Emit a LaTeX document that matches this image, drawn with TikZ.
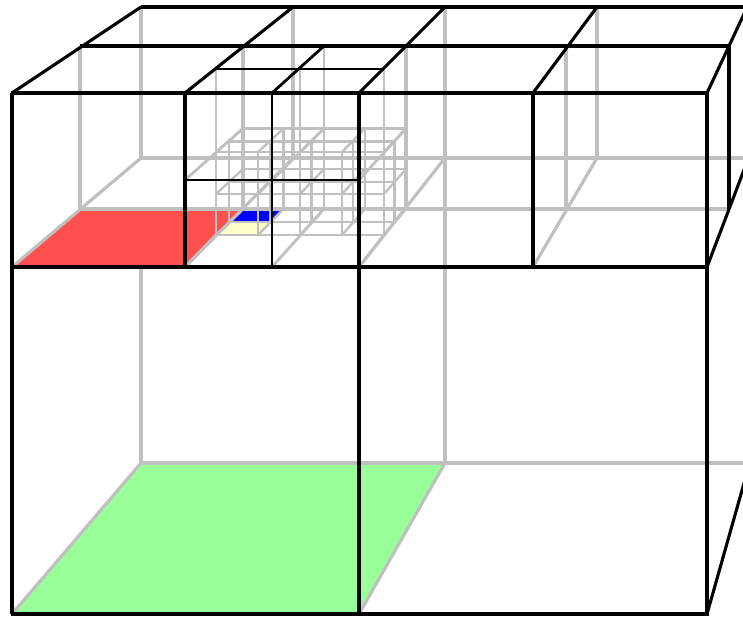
\documentclass[tikz,border=0pt]{standalone}
\definecolor{gr}{HTML}{C0C0C0}
\definecolor{redf}{HTML}{FF5050}
\definecolor{greenf}{HTML}{99FF99}
\definecolor{yelf}{HTML}{FFFFCC}
\tikzset{
 gbig/.style={draw=gr,line width=3.2pt},
 gmid/.style={draw=gr,line width=2.8pt},
 gsmall/.style={draw=gr,line width=2.4pt},
 kbig/.style={draw=black,line width=3.1pt},
 kmid/.style={draw=black,line width=2.8pt}
}
\begin{document}
\begin{tikzpicture}[x=1pt,y=-1pt,line cap=butt,line join=miter]
\useasboundingbox (0,0) rectangle (743,617);
\clip (0,0) rectangle (743,617);
% filled cells
\fill[greenf] (12,614) -- (359,614) -- (445,463) -- (141,463) -- cycle;
\fill[redf] (12,267) -- (185,267) -- (243,209) -- (80,209) -- cycle;
\fill[yelf] (216,235) -- (258,235) -- (270,222) -- (229,222) -- cycle;
\fill[blue] (229,222) -- (270,222) -- (283.5,209) -- (243,209) -- cycle;
% finest grid
\foreach \a/\b/\c in {216/229/243,258/270/283.5,300/311.5/324,342/353/365,384/394.5/406}{
  \draw[gsmall] (\a,152) -- (\a,235);
  \draw[gsmall] (\b,141.5) -- (\b,222);
  \draw[gsmall] (\c,128.5) -- (\c,209);
  \draw[gsmall] (\a,152) -- (\c,128.5);
  \draw[gsmall] (\a,194) -- (\c,169);
  \draw[gsmall] (\a,235) -- (\c,209);
}
\foreach \y/\l/\r in {152/216/384,194/216/384,235/216/384,141.5/229/394.5,182/229/394.5,222/229/394.5,128.5/243/406,169/243/406}{
  \draw[gsmall] (\l,\y) -- (\r,\y);
}
% middle level hidden edges
\draw[gmid] (216,69) -- (216,152) (300,69) -- (300,152) (384,69) -- (384,152);
\draw[gmid] (185,180) -- (243,128.5) (272,180) -- (324,128.5) (359,180) -- (406,128.5);
\draw[gmid] (185,267) -- (216,235) (272,267) -- (324,209) (359,267) -- (384,235);
% large level hidden edges
\draw[gbig] (80,46) -- (80,209) (243,46) -- (243,209) (406,46) -- (406,209) (566,46) -- (566,209);
\draw[gmid] (324,46) -- (324,209);
\draw[gbig] (141,7) -- (141,158) (141,267) -- (141,463) (293,7) -- (293,158) (445,7) -- (445,463) (597,7) -- (597,158);
\draw[gbig] (80,209) -- (729,209);
\draw[gbig] (141,158) -- (750,158);
\draw[gbig] (141,463) -- (750,463);
\draw[gbig] (12,267) -- (141,158) (185,267) -- (293,158) (359,267) -- (445,158) (533,267) -- (597,158);
\draw[gbig] (12,614) -- (141,463) (359,614) -- (445,463);
% visible edges
\draw[kmid] (272,93) -- (272,267) (185,180) -- (359,180) (216,69) -- (384,69);
\draw[kmid] (272,93) -- (324,46);
\draw[kbig] (12,93) -- (141,7) (185,93) -- (293,7) (359,93) -- (445,7) (533,93) -- (597,7) (707,93) -- (729,46) -- (750,1);
\draw[kbig] (141,7) -- (750,7) (80,46) -- (729,46);
\draw[kbig] (729,46) -- (729,209);
\draw[kbig] (707,267) -- (750,154);
\draw[kbig] (707,614) -- (750,462);
\draw[kbig] (10.5,93) -- (707,93) (10.5,267) -- (707,267) (10.5,614) -- (708.5,614);
\draw[kbig] (12,93) -- (12,614) (185,93) -- (185,267) (359,93) -- (359,614) (533,93) -- (533,267) (707,93) -- (707,614);
\end{tikzpicture}
\end{document}
